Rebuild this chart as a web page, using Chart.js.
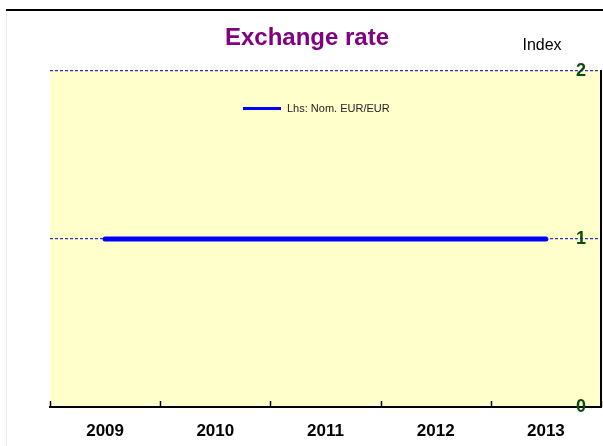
<!DOCTYPE html>
<html>
<head>
<meta charset="utf-8">
<script src="https://cdn.jsdelivr.net/npm/chart.js@4"></script>
<style>
  html, body { margin: 0; padding: 0; background: #fff; }
</style>
</head>
<body>
<canvas id="grafico" width="603" height="446"></canvas>
<script>
// datos del grafico
var anios = ['2009', '2010', '2011', '2012', '2013']
var nomEurEur = [1, 1, 1, 1, 1]
var ticksIndice = [0, 1, 2]

const fuente = '"Liberation Sans", Arial, sans-serif'

// fondo, marco, titulos y leyenda
const decoracion = {
    id: 'decoracion',
    beforeDraw(chart) {
        const { ctx, chartArea: a } = chart
        ctx.save()
        ctx.fillStyle = '#ffffcc'
        ctx.fillRect(a.left, a.top, a.right - a.left, a.bottom - a.top)
        // linea superior y borde izquierdo
        ctx.strokeStyle = '#000'
        ctx.lineWidth = 2
        ctx.beginPath()
        ctx.moveTo(6, 10)
        ctx.lineTo(603, 10)
        ctx.stroke()
        ctx.strokeStyle = '#ebebeb'
        ctx.lineWidth = 1
        ctx.beginPath()
        ctx.moveTo(6.5, 11)
        ctx.lineTo(6.5, 446)
        ctx.stroke()
        ctx.restore()
    },
    afterDraw(chart) {
        const { ctx, chartArea: a, scales } = chart
        ctx.save()
        ctx.fillStyle = '#800080'
        ctx.font = 'bold 24px ' + fuente
        ctx.textAlign = 'center'
        ctx.textBaseline = 'alphabetic'
        ctx.fillText('Exchange rate', 307, 45)
        ctx.fillStyle = '#000'
        ctx.font = '16px ' + fuente
        ctx.fillText('Index', 542, 50)

        // leyenda dentro del area
        const ds = chart.data.datasets[0]
        ctx.strokeStyle = ds.borderColor
        ctx.lineWidth = 3
        ctx.beginPath()
        ctx.moveTo(243, 108.5)
        ctx.lineTo(281, 108.5)
        ctx.stroke()
        ctx.fillStyle = '#222'
        ctx.font = '11px ' + fuente
        ctx.textAlign = 'left'
        ctx.textBaseline = 'middle'
        ctx.fillText(ds.label, 287, 109)

        // marcas del eje x hacia adentro
        const x = scales.x
        const paso = x.getPixelForValue(1) - x.getPixelForValue(0)
        ctx.strokeStyle = '#000'
        ctx.lineWidth = 1.5
        for (let i = 0; i <= anios.length; i++) {
            const px = Math.round(x.getPixelForValue(0) - paso / 2 + i * paso) + 0.5
            ctx.beginPath()
            ctx.moveTo(px, a.bottom)
            ctx.lineTo(px, a.bottom - 6)
            ctx.stroke()
        }
        ctx.restore()
    }
}

const ctx = document.getElementById('grafico').getContext('2d')
const myChart = new Chart(ctx, {
    type: 'line',
    data: {
        labels: anios,
        datasets: [{
            label: 'Lhs: Nom. EUR/EUR',
            data: nomEurEur,
            borderColor: '#0000ff',
            backgroundColor: '#0000ff',
            borderWidth: 5,
            borderCapStyle: 'round',
            pointRadius: 0,
            tension: 0
        }]
    },
    options: {
        responsive: false,
        animation: false,
        layout: {
            padding: { left: 50, right: 2, top: 71, bottom: 0 }
        },
        scales: {
            x: {
                offset: true,
                grid: { display: false, drawTicks: false },
                border: { color: '#000', width: 2 },
                ticks: {
                    color: '#000',
                    padding: 14,
                    font: { family: fuente, size: 17, weight: 'bold' }
                },
                afterFit(scale) { scale.height = 39 }
            },
            y: {
                position: 'right',
                min: 0,
                max: 2,
                afterBuildTicks(scale) {
                    scale.ticks = ticksIndice.map(v => ({ value: v }))
                },
                grid: {
                    color: (c) => c.tick && c.tick.value === 0 ? 'rgba(0,0,0,0)' : '#2f2fb8',
                    lineWidth: 1.2,
                    drawTicks: false
                },
                border: { color: '#000', width: 2, dash: [3, 2] },
                ticks: {
                    mirror: true,
                    padding: -15,
                    color: '#0b4a12',
                    font: { family: fuente, size: 18, weight: 'bold' }
                },
                afterFit(scale) { scale.width = 0 }
            }
        },
        plugins: {
            legend: { display: false },
            title: { display: false },
            tooltip: { enabled: false }
        }
    },
    plugins: [decoracion]
})
</script>
</body>
</html>
